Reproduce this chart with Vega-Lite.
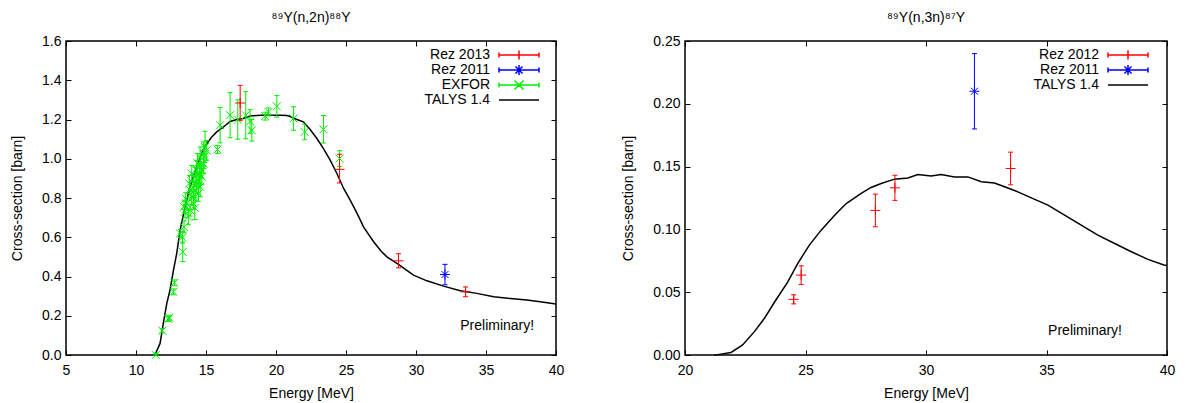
{
  "$schema": "https://vega.github.io/schema/vega-lite/v6.json",
  "padding": {"left": 9, "top": 10, "right": 5, "bottom": 2},
  "spacing": 56,
  "config": {
    "font": "Liberation Sans",
    "view": {"stroke": "black", "strokeWidth": 1.5},
    "axis": {"grid": false, "domain": false, "tickSize": -5, "tickWidth": 1, "tickColor": "black", "labelColor": "black", "titleColor": "black", "labelFontSize": 14, "titleFontSize": 14, "titleFontWeight": "normal", "minExtent": 0, "labelFlush": false, "labelOverlap": false},
    "axisX": {"labelPadding": 13, "titlePadding": 9},
    "axisY": {"labelPadding": 10, "titlePadding": 17},
    "title": {"fontSize": 14, "fontWeight": "normal", "frame": "group", "anchor": "middle", "offset": 9, "color": "black"},
    "legend": {"labelFontSize": 14, "labelColor": "black"}
  },
  "datasets": {
    "talysA": [
      {"series": "TALYS 1.4", "E": 11.35, "xs": 0},
      {"series": "TALYS 1.4", "E": 11.72, "xs": 0.059},
      {"series": "TALYS 1.4", "E": 11.95, "xs": 0.161},
      {"series": "TALYS 1.4", "E": 12.2, "xs": 0.263},
      {"series": "TALYS 1.4", "E": 12.43, "xs": 0.331},
      {"series": "TALYS 1.4", "E": 12.67, "xs": 0.43},
      {"series": "TALYS 1.4", "E": 12.91, "xs": 0.518},
      {"series": "TALYS 1.4", "E": 13.15, "xs": 0.636},
      {"series": "TALYS 1.4", "E": 13.51, "xs": 0.755},
      {"series": "TALYS 1.4", "E": 13.86, "xs": 0.857},
      {"series": "TALYS 1.4", "E": 14.1, "xs": 0.908},
      {"series": "TALYS 1.4", "E": 14.34, "xs": 0.959},
      {"series": "TALYS 1.4", "E": 14.7, "xs": 1.027},
      {"series": "TALYS 1.4", "E": 15.06, "xs": 1.078},
      {"series": "TALYS 1.4", "E": 15.41, "xs": 1.111},
      {"series": "TALYS 1.4", "E": 15.77, "xs": 1.137},
      {"series": "TALYS 1.4", "E": 16.25, "xs": 1.162},
      {"series": "TALYS 1.4", "E": 16.72, "xs": 1.19},
      {"series": "TALYS 1.4", "E": 17.2, "xs": 1.2},
      {"series": "TALYS 1.4", "E": 17.67, "xs": 1.205},
      {"series": "TALYS 1.4", "E": 18.15, "xs": 1.218},
      {"series": "TALYS 1.4", "E": 18.87, "xs": 1.222},
      {"series": "TALYS 1.4", "E": 19.5, "xs": 1.222},
      {"series": "TALYS 1.4", "E": 20.3, "xs": 1.222},
      {"series": "TALYS 1.4", "E": 20.77, "xs": 1.22},
      {"series": "TALYS 1.4", "E": 21.01, "xs": 1.215},
      {"series": "TALYS 1.4", "E": 21.49, "xs": 1.2},
      {"series": "TALYS 1.4", "E": 21.96, "xs": 1.188},
      {"series": "TALYS 1.4", "E": 22.44, "xs": 1.149},
      {"series": "TALYS 1.4", "E": 22.92, "xs": 1.103},
      {"series": "TALYS 1.4", "E": 23.39, "xs": 1.052},
      {"series": "TALYS 1.4", "E": 23.87, "xs": 0.993},
      {"series": "TALYS 1.4", "E": 24.35, "xs": 0.925},
      {"series": "TALYS 1.4", "E": 24.82, "xs": 0.85},
      {"series": "TALYS 1.4", "E": 25.3, "xs": 0.789},
      {"series": "TALYS 1.4", "E": 25.8, "xs": 0.72},
      {"series": "TALYS 1.4", "E": 26.25, "xs": 0.653},
      {"series": "TALYS 1.4", "E": 26.97, "xs": 0.577},
      {"series": "TALYS 1.4", "E": 27.5, "xs": 0.53},
      {"series": "TALYS 1.4", "E": 27.92, "xs": 0.5},
      {"series": "TALYS 1.4", "E": 28.75, "xs": 0.462},
      {"series": "TALYS 1.4", "E": 29.82, "xs": 0.407},
      {"series": "TALYS 1.4", "E": 30.78, "xs": 0.378},
      {"series": "TALYS 1.4", "E": 31.97, "xs": 0.351},
      {"series": "TALYS 1.4", "E": 33.16, "xs": 0.327},
      {"series": "TALYS 1.4", "E": 34.35, "xs": 0.314},
      {"series": "TALYS 1.4", "E": 35.55, "xs": 0.297},
      {"series": "TALYS 1.4", "E": 36.74, "xs": 0.288},
      {"series": "TALYS 1.4", "E": 37.93, "xs": 0.28},
      {"series": "TALYS 1.4", "E": 39.0, "xs": 0.27},
      {"series": "TALYS 1.4", "E": 40.0, "xs": 0.26}
    ],
    "expA": [
      {"series": "EXFOR", "E": 11.41, "xs": 0.0, "lo": 0.0, "hi": 0.01},
      {"series": "EXFOR", "E": 11.88, "xs": 0.124, "lo": 0.114, "hi": 0.134},
      {"series": "EXFOR", "E": 12.31, "xs": 0.183, "lo": 0.171, "hi": 0.195},
      {"series": "EXFOR", "E": 12.38, "xs": 0.19, "lo": 0.178, "hi": 0.202},
      {"series": "EXFOR", "E": 12.67, "xs": 0.322, "lo": 0.307, "hi": 0.337},
      {"series": "EXFOR", "E": 12.74, "xs": 0.368, "lo": 0.353, "hi": 0.383},
      {"series": "EXFOR", "E": 13.34, "xs": 0.526, "lo": 0.476, "hi": 0.576},
      {"series": "EXFOR", "E": 13.15, "xs": 0.619, "lo": 0.599, "hi": 0.639},
      {"series": "EXFOR", "E": 13.32, "xs": 0.6, "lo": 0.57, "hi": 0.63},
      {"series": "EXFOR", "E": 13.43, "xs": 0.653, "lo": 0.623, "hi": 0.683},
      {"series": "EXFOR", "E": 13.5, "xs": 0.73, "lo": 0.7, "hi": 0.76},
      {"series": "EXFOR", "E": 13.74, "xs": 0.704, "lo": 0.664, "hi": 0.744},
      {"series": "EXFOR", "E": 13.86, "xs": 0.738, "lo": 0.708, "hi": 0.768},
      {"series": "EXFOR", "E": 13.98, "xs": 0.806, "lo": 0.766, "hi": 0.846},
      {"series": "EXFOR", "E": 14.1, "xs": 0.772, "lo": 0.742, "hi": 0.802},
      {"series": "EXFOR", "E": 14.22, "xs": 0.84, "lo": 0.8, "hi": 0.88},
      {"series": "EXFOR", "E": 14.34, "xs": 0.874, "lo": 0.824, "hi": 0.924},
      {"series": "EXFOR", "E": 14.46, "xs": 0.823, "lo": 0.783, "hi": 0.863},
      {"series": "EXFOR", "E": 14.53, "xs": 0.925, "lo": 0.875, "hi": 0.975},
      {"series": "EXFOR", "E": 14.58, "xs": 0.959, "lo": 0.909, "hi": 1.009},
      {"series": "EXFOR", "E": 14.7, "xs": 0.908, "lo": 0.868, "hi": 0.948},
      {"series": "EXFOR", "E": 14.82, "xs": 0.976, "lo": 0.926, "hi": 1.026},
      {"series": "EXFOR", "E": 14.86, "xs": 1.01, "lo": 0.95, "hi": 1.07},
      {"series": "EXFOR", "E": 14.93, "xs": 1.06, "lo": 0.98, "hi": 1.14},
      {"series": "EXFOR", "E": 15.05, "xs": 1.043, "lo": 0.993, "hi": 1.093},
      {"series": "EXFOR", "E": 13.43, "xs": 0.755, "lo": 0.725, "hi": 0.785},
      {"series": "EXFOR", "E": 13.62, "xs": 0.772, "lo": 0.742, "hi": 0.802},
      {"series": "EXFOR", "E": 13.86, "xs": 0.84, "lo": 0.8, "hi": 0.88},
      {"series": "EXFOR", "E": 14.1, "xs": 0.874, "lo": 0.834, "hi": 0.914},
      {"series": "EXFOR", "E": 14.34, "xs": 0.942, "lo": 0.892, "hi": 0.992},
      {"series": "EXFOR", "E": 14.58, "xs": 1.01, "lo": 0.96, "hi": 1.06},
      {"series": "EXFOR", "E": 14.22, "xs": 0.908, "lo": 0.858, "hi": 0.958},
      {"series": "EXFOR", "E": 13.98, "xs": 0.925, "lo": 0.885, "hi": 0.965},
      {"series": "EXFOR", "E": 13.81, "xs": 0.874, "lo": 0.834, "hi": 0.914},
      {"series": "EXFOR", "E": 14.39, "xs": 0.976, "lo": 0.926, "hi": 1.026},
      {"series": "EXFOR", "E": 14.7, "xs": 0.942, "lo": 0.902, "hi": 0.982},
      {"series": "EXFOR", "E": 14.82, "xs": 1.026, "lo": 0.966, "hi": 1.086},
      {"series": "EXFOR", "E": 13.55, "xs": 0.797, "lo": 0.767, "hi": 0.827},
      {"series": "EXFOR", "E": 14.46, "xs": 0.891, "lo": 0.851, "hi": 0.931},
      {"series": "EXFOR", "E": 14.1, "xs": 0.806, "lo": 0.776, "hi": 0.836},
      {"series": "EXFOR", "E": 14.58, "xs": 0.857, "lo": 0.807, "hi": 0.907},
      {"series": "EXFOR", "E": 14.2, "xs": 0.75, "lo": 0.69, "hi": 0.81},
      {"series": "EXFOR", "E": 15.82, "xs": 1.047, "lo": 1.027, "hi": 1.067},
      {"series": "EXFOR", "E": 16.01, "xs": 1.171, "lo": 1.081, "hi": 1.261},
      {"series": "EXFOR", "E": 16.72, "xs": 1.222, "lo": 1.107, "hi": 1.337},
      {"series": "EXFOR", "E": 17.27, "xs": 1.2, "lo": 1.1, "hi": 1.3},
      {"series": "EXFOR", "E": 17.84, "xs": 1.222, "lo": 1.102, "hi": 1.342},
      {"series": "EXFOR", "E": 18.27, "xs": 1.145, "lo": 1.09, "hi": 1.2},
      {"series": "EXFOR", "E": 18.15, "xs": 1.19, "lo": 1.13, "hi": 1.25},
      {"series": "EXFOR", "E": 19.22, "xs": 1.217, "lo": 1.197, "hi": 1.237},
      {"series": "EXFOR", "E": 19.46, "xs": 1.239, "lo": 1.219, "hi": 1.259},
      {"series": "EXFOR", "E": 20.06, "xs": 1.267, "lo": 1.212, "hi": 1.322},
      {"series": "EXFOR", "E": 21.25, "xs": 1.205, "lo": 1.145, "hi": 1.265},
      {"series": "EXFOR", "E": 22.04, "xs": 1.137, "lo": 1.097, "hi": 1.177},
      {"series": "EXFOR", "E": 23.39, "xs": 1.15, "lo": 1.08, "hi": 1.22},
      {"series": "EXFOR", "E": 24.54, "xs": 1.001, "lo": 0.961, "hi": 1.041},
      {"series": "Rez 2013", "E": 17.44, "xs": 1.284, "lo": 1.194, "hi": 1.374},
      {"series": "Rez 2013", "E": 24.54, "xs": 0.946, "lo": 0.877, "hi": 1.023},
      {"series": "Rez 2013", "E": 28.75, "xs": 0.48, "lo": 0.444, "hi": 0.516},
      {"series": "Rez 2013", "E": 33.54, "xs": 0.322, "lo": 0.297, "hi": 0.347},
      {"series": "Rez 2011", "E": 32.07, "xs": 0.41, "lo": 0.358, "hi": 0.462}
    ],
    "talysB": [
      {"series": "TALYS 1.4", "E": 21.2, "xs": 0},
      {"series": "TALYS 1.4", "E": 21.36, "xs": 0.0003},
      {"series": "TALYS 1.4", "E": 21.91, "xs": 0.002},
      {"series": "TALYS 1.4", "E": 22.39, "xs": 0.008},
      {"series": "TALYS 1.4", "E": 22.88, "xs": 0.0186},
      {"series": "TALYS 1.4", "E": 23.29, "xs": 0.029},
      {"series": "TALYS 1.4", "E": 23.71, "xs": 0.042},
      {"series": "TALYS 1.4", "E": 24.26, "xs": 0.058},
      {"series": "TALYS 1.4", "E": 24.68, "xs": 0.073},
      {"series": "TALYS 1.4", "E": 25.16, "xs": 0.0875},
      {"series": "TALYS 1.4", "E": 25.65, "xs": 0.0994},
      {"series": "TALYS 1.4", "E": 26.2, "xs": 0.111},
      {"series": "TALYS 1.4", "E": 26.69, "xs": 0.1206},
      {"series": "TALYS 1.4", "E": 27.31, "xs": 0.1286},
      {"series": "TALYS 1.4", "E": 27.72, "xs": 0.1334},
      {"series": "TALYS 1.4", "E": 28.14, "xs": 0.1365},
      {"series": "TALYS 1.4", "E": 28.69, "xs": 0.14},
      {"series": "TALYS 1.4", "E": 29.25, "xs": 0.141},
      {"series": "TALYS 1.4", "E": 29.66, "xs": 0.1437},
      {"series": "TALYS 1.4", "E": 30.21, "xs": 0.1426},
      {"series": "TALYS 1.4", "E": 30.63, "xs": 0.1437},
      {"series": "TALYS 1.4", "E": 31.18, "xs": 0.1418},
      {"series": "TALYS 1.4", "E": 31.74, "xs": 0.1418},
      {"series": "TALYS 1.4", "E": 32.29, "xs": 0.1379},
      {"series": "TALYS 1.4", "E": 32.84, "xs": 0.137},
      {"series": "TALYS 1.4", "E": 33.26, "xs": 0.1339},
      {"series": "TALYS 1.4", "E": 33.81, "xs": 0.1299},
      {"series": "TALYS 1.4", "E": 34.37, "xs": 0.1251},
      {"series": "TALYS 1.4", "E": 35.06, "xs": 0.1193},
      {"series": "TALYS 1.4", "E": 35.75, "xs": 0.1113},
      {"series": "TALYS 1.4", "E": 36.44, "xs": 0.1034},
      {"series": "TALYS 1.4", "E": 37.13, "xs": 0.0954},
      {"series": "TALYS 1.4", "E": 37.83, "xs": 0.0888},
      {"series": "TALYS 1.4", "E": 38.52, "xs": 0.0822},
      {"series": "TALYS 1.4", "E": 39.21, "xs": 0.0761},
      {"series": "TALYS 1.4", "E": 39.87, "xs": 0.0716},
      {"series": "TALYS 1.4", "E": 40.0, "xs": 0.0712}
    ],
    "expB": [
      {"series": "Rez 2012", "E": 24.51, "xs": 0.0443, "lo": 0.0407, "hi": 0.0479},
      {"series": "Rez 2012", "E": 24.82, "xs": 0.0636, "lo": 0.0562, "hi": 0.071},
      {"series": "Rez 2012", "E": 27.9, "xs": 0.1151, "lo": 0.1021, "hi": 0.1281},
      {"series": "Rez 2012", "E": 28.71, "xs": 0.1331, "lo": 0.1231, "hi": 0.1431},
      {"series": "Rez 2012", "E": 33.51, "xs": 0.1485, "lo": 0.1355, "hi": 0.1615},
      {"series": "Rez 2011", "E": 32.01, "xs": 0.21, "lo": 0.18, "hi": 0.24}
    ]
  },
  "resolve": {"scale": {"x": "independent", "y": "independent", "color": "independent", "shape": "independent"}, "legend": {"color": "independent"}},
  "hconcat": [
    {
      "width": 490,
      "height": 314,
      "title": {"text": "⁸⁹Y(n,2n)⁸⁸Y"},
      "resolve": {"axis": {"x": "independent", "y": "independent"}},
      "layer": [
        {
          "data": {"name": "talysA"},
          "mark": {"type": "line", "strokeWidth": 1.5, "interpolate": "linear"},
          "encoding": {
            "x": {"field": "E", "type": "quantitative", "scale": {"domain": [5, 40], "nice": false, "zero": false}, "axis": {"orient": "bottom", "title": "Energy [MeV]", "values": [5, 10, 15, 20, 25, 30, 35, 40], "format": "d"}},
            "y": {"field": "xs", "type": "quantitative", "scale": {"domain": [0, 1.6], "nice": false}, "axis": {"orient": "left", "title": "Cross-section [barn]", "values": [0, 0.2, 0.4, 0.6, 0.8, 1.0, 1.2, 1.4, 1.6], "format": ".1f"}},
            "color": {"field": "series", "type": "nominal", "scale": {"domain": ["Rez 2013", "Rez 2011", "EXFOR", "TALYS 1.4"], "range": ["#ff0000", "#0000ff", "#00ee00", "#000000"]},
              "legend": {"orient": "none", "legendX": 446, "legendY": 7, "title": null, "labelAlign": "right", "labelOffset": -36, "symbolSize": 100, "symbolStrokeWidth": 1.5, "rowPadding": -5, "padding": 0,
                "encode": {"symbols": {"update": {"shape": {"signal": "datum.value === 'Rez 2013' ? 'M-4,0L4,0M-4,-0.5L-4,0.5M4,-0.5L4,0.5M0,-0.9L0,0.9' : datum.value === 'Rez 2011' ? 'M-4,0L4,0M-4,-0.5L-4,0.5M4,-0.5L4,0.5M0,-1L0,1M-0.7,-0.7L0.7,0.7M-0.7,0.7L0.7,-0.7' : datum.value === 'EXFOR' ? 'M-4,0L4,0M-4,-0.5L-4,0.5M4,-0.5L4,0.5M-0.9,-0.9L0.9,0.9M-0.9,0.9L0.9,-0.9' : 'M-4,0L4,0'"}, "fill": {"value": "transparent"}}}}}
            }
          }
        },
        {
          "data": {"name": "expA"},
          "mark": {"type": "rule", "strokeWidth": 1},
          "encoding": {
            "x": {"field": "E", "type": "quantitative", "axis": {"orient": "top", "labels": false, "title": null, "values": [5, 10, 15, 20, 25, 30, 35, 40]}},
            "y": {"field": "lo", "type": "quantitative", "axis": {"orient": "right", "labels": false, "title": null, "values": [0, 0.2, 0.4, 0.6, 0.8, 1.0, 1.2, 1.4, 1.6]}},
            "y2": {"field": "hi"},
            "color": {"field": "series", "type": "nominal"}
          }
        },
        {
          "data": {"name": "expA"},
          "mark": {"type": "tick", "orient": "horizontal", "size": 5, "thickness": 1, "opacity": 1},
          "encoding": {
            "x": {"field": "E", "type": "quantitative", "axis": null},
            "y": {"field": "lo", "type": "quantitative", "axis": null},
            "color": {"field": "series", "type": "nominal"}
          }
        },
        {
          "data": {"name": "expA"},
          "mark": {"type": "tick", "orient": "horizontal", "size": 5, "thickness": 1, "opacity": 1},
          "encoding": {
            "x": {"field": "E", "type": "quantitative", "axis": null},
            "y": {"field": "hi", "type": "quantitative", "axis": null},
            "color": {"field": "series", "type": "nominal"}
          }
        },
        {
          "data": {"name": "expA"},
          "mark": {"type": "point", "filled": false, "size": 100, "strokeWidth": 1, "opacity": 1},
          "encoding": {
            "x": {"field": "E", "type": "quantitative", "axis": null},
            "y": {"field": "xs", "type": "quantitative", "axis": null},
            "color": {"field": "series", "type": "nominal"},
            "shape": {"field": "series", "type": "nominal", "legend": null, "scale": {"domain": ["Rez 2013", "Rez 2011", "EXFOR"], "range": ["M-1,0L1,0M0,-1L0,1", "M-1,0L1,0M0,-1L0,1M-0.7,-0.7L0.7,0.7M-0.7,0.7L0.7,-0.7", "M-0.8,-0.8L0.8,0.8M-0.8,0.8L0.8,-0.8"]}}
          }
        },
        {
          "data": {"values": [{"label": "Preliminary!"}]},
          "mark": {"type": "text", "fontSize": 14, "align": "center", "baseline": "middle", "color": "black"},
          "encoding": {
            "x": {"datum": 35.8, "type": "quantitative", "axis": null},
            "y": {"datum": 0.148, "type": "quantitative", "axis": null},
            "text": {"field": "label"}
          }
        }
      ]
    },
    {
      "width": 482,
      "height": 314,
      "title": {"text": "⁸⁹Y(n,3n)⁸⁷Y"},
      "resolve": {"axis": {"x": "independent", "y": "independent"}},
      "layer": [
        {
          "data": {"name": "talysB"},
          "mark": {"type": "line", "strokeWidth": 1.5},
          "encoding": {
            "x": {"field": "E", "type": "quantitative", "scale": {"domain": [20, 40], "nice": false, "zero": false}, "axis": {"orient": "bottom", "title": "Energy [MeV]", "values": [20, 25, 30, 35, 40], "format": "d"}},
            "y": {"field": "xs", "type": "quantitative", "scale": {"domain": [0, 0.25], "nice": false}, "axis": {"orient": "left", "title": "Cross-section [barn]", "values": [0, 0.05, 0.1, 0.15, 0.2, 0.25], "format": ".2f"}},
            "color": {"field": "series", "type": "nominal", "scale": {"domain": ["Rez 2012", "Rez 2011", "TALYS 1.4"], "range": ["#ff0000", "#0000ff", "#000000"]},
              "legend": {"orient": "none", "legendX": 436, "legendY": 7, "title": null, "labelAlign": "right", "labelOffset": -36, "symbolSize": 100, "symbolStrokeWidth": 1.5, "rowPadding": -5, "padding": 0,
                "encode": {"symbols": {"update": {"shape": {"signal": "datum.value === 'Rez 2012' ? 'M-4,0L4,0M-4,-0.5L-4,0.5M4,-0.5L4,0.5M0,-0.9L0,0.9' : datum.value === 'Rez 2011' ? 'M-4,0L4,0M-4,-0.5L-4,0.5M4,-0.5L4,0.5M0,-1L0,1M-0.7,-0.7L0.7,0.7M-0.7,0.7L0.7,-0.7' : 'M-4,0L4,0'"}, "fill": {"value": "transparent"}}}}}
            }
          }
        },
        {
          "data": {"name": "expB"},
          "mark": {"type": "rule", "strokeWidth": 1},
          "encoding": {
            "x": {"field": "E", "type": "quantitative", "axis": {"orient": "top", "labels": false, "title": null, "values": [20, 25, 30, 35, 40]}},
            "y": {"field": "lo", "type": "quantitative", "axis": {"orient": "right", "labels": false, "title": null, "values": [0, 0.05, 0.1, 0.15, 0.2, 0.25]}},
            "y2": {"field": "hi"},
            "color": {"field": "series", "type": "nominal"}
          }
        },
        {
          "data": {"name": "expB"},
          "mark": {"type": "tick", "orient": "horizontal", "size": 5, "thickness": 1, "opacity": 1},
          "encoding": {
            "x": {"field": "E", "type": "quantitative", "axis": null},
            "y": {"field": "lo", "type": "quantitative", "axis": null},
            "color": {"field": "series", "type": "nominal"}
          }
        },
        {
          "data": {"name": "expB"},
          "mark": {"type": "tick", "orient": "horizontal", "size": 5, "thickness": 1, "opacity": 1},
          "encoding": {
            "x": {"field": "E", "type": "quantitative", "axis": null},
            "y": {"field": "hi", "type": "quantitative", "axis": null},
            "color": {"field": "series", "type": "nominal"}
          }
        },
        {
          "data": {"name": "expB"},
          "mark": {"type": "point", "filled": false, "size": 100, "strokeWidth": 1, "opacity": 1},
          "encoding": {
            "x": {"field": "E", "type": "quantitative", "axis": null},
            "y": {"field": "xs", "type": "quantitative", "axis": null},
            "color": {"field": "series", "type": "nominal"},
            "shape": {"field": "series", "type": "nominal", "legend": null, "scale": {"domain": ["Rez 2012", "Rez 2011"], "range": ["M-1,0L1,0M0,-1L0,1", "M-1,0L1,0M0,-1L0,1M-0.7,-0.7L0.7,0.7M-0.7,0.7L0.7,-0.7"]}}
          }
        },
        {
          "data": {"values": [{"label": "Preliminary!"}]},
          "mark": {"type": "text", "fontSize": 14, "align": "center", "baseline": "middle", "color": "black"},
          "encoding": {
            "x": {"datum": 36.6, "type": "quantitative", "axis": null},
            "y": {"datum": 0.019, "type": "quantitative", "axis": null},
            "text": {"field": "label"}
          }
        }
      ]
    }
  ]
}
